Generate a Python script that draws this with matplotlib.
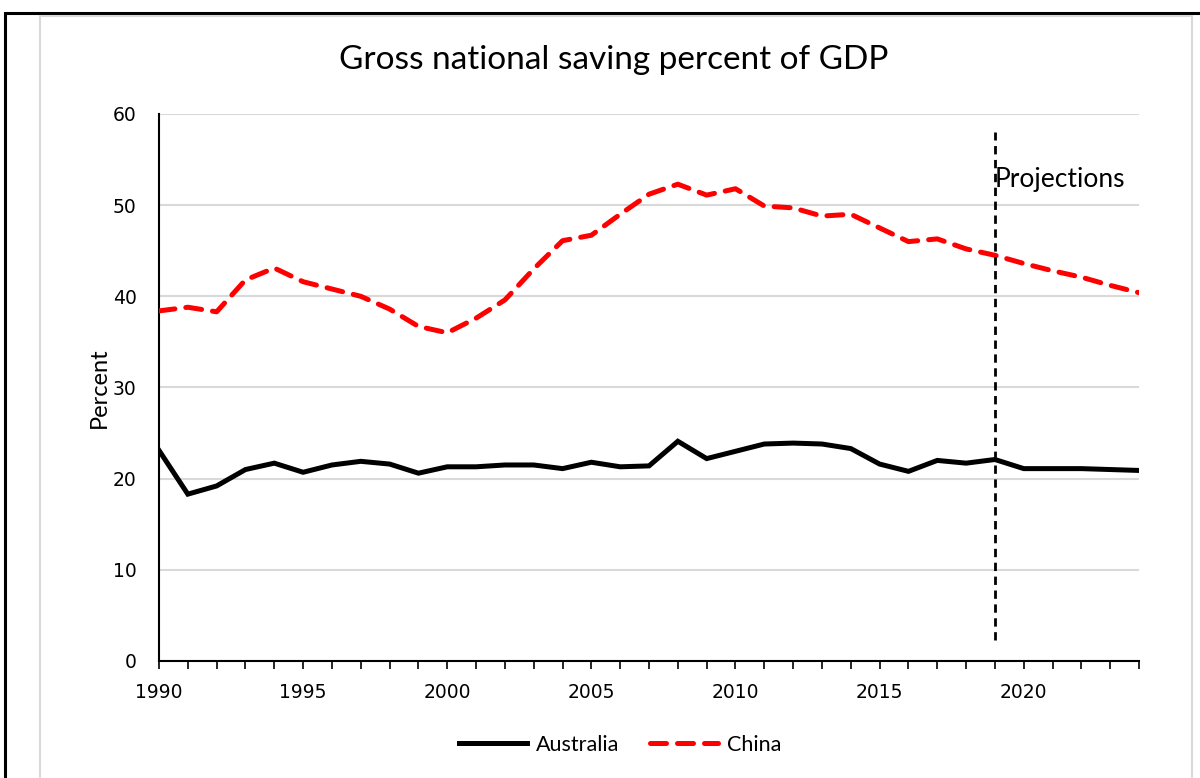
import numpy as np
import matplotlib
matplotlib.use("Agg")
import matplotlib.pyplot as plt
from matplotlib.patches import Rectangle

years = list(range(1990, 2025))
australia = [23.1, 18.3, 19.2, 21.0, 21.7, 20.7, 21.5, 21.9, 21.6, 20.6,
             21.3, 21.3, 21.5, 21.5, 21.1, 21.8, 21.3, 21.4, 24.1, 22.2,
             23.0, 23.8, 23.9, 23.8, 23.3, 21.6, 20.8, 22.0, 21.7, 22.1,
             21.1, 21.1, 21.1, 21.0, 20.9]
china = [38.4, 38.8, 38.3, 41.8, 43.1, 41.6, 40.8, 40.0, 38.6, 36.7,
         36.0, 37.6, 39.6, 43.0, 46.1, 46.7, 49.0, 51.2, 52.3, 51.1,
         51.8, 49.9, 49.7, 48.8, 49.0, 47.5, 46.0, 46.3, 45.2, 44.5,
         43.6, 42.8, 42.1, 41.2, 40.4]
proj_year = 2019
proj_label = "Projections"

plt.rcParams['font.family'] = ['Lato', 'DejaVu Sans']

fig = plt.figure(figsize=(12, 7.78), dpi=100)
ax = fig.add_axes([0.1325, 0.1504, 0.8167, 0.7031])

# outer frame (black) and chart-area border (grey)
fig.patches.append(Rectangle((5 / 1200, -0.1), 1.2, 1 - 13 / 778 + 0.1,
                             transform=fig.transFigure, fill=False,
                             edgecolor="black", linewidth=2.2, zorder=0))
fig.patches.append(Rectangle((40 / 1200, -0.1), (1192 - 40) / 1200, 1 - 16 / 778 + 0.1,
                             transform=fig.transFigure, fill=False,
                             edgecolor="#d9d9d9", linewidth=1.5, zorder=0))

ax.plot(years, australia, color="black", linewidth=3.6, label="Australia",
        solid_joinstyle="miter", zorder=3)
ax.plot(years, china, color="red", linewidth=3.6, label="China",
        dashes=(3.2, 2.2), dash_capstyle="round", zorder=3)
ax.plot([proj_year, proj_year], [2.3, 58], color="black", linewidth=2,
        dashes=(3, 2), zorder=4)
ax.text(proj_year, 52.8, proj_label, fontsize=19, ha="left", va="center")

ax.set_xlim(1990, 2024)
ax.set_ylim(0, 60)
ax.set_yticks(range(0, 61, 10))
ax.set_xticks(range(1990, 2025, 5))
ax.set_xticks(range(1990, 2025), minor=True)
ax.grid(axis="y", color="#d9d9d9", linewidth=1.5, zorder=0)
ax.set_axisbelow(True)

for s in ["top", "right"]:
    ax.spines[s].set_visible(False)
ax.spines["left"].set_linewidth(1.5)
ax.spines["bottom"].set_linewidth(1.5)
ax.tick_params(axis="y", length=0, pad=16, labelsize=13.5)
ax.tick_params(axis="x", which="both", direction="out", length=6, width=1.2,
               labelsize=13.5, pad=10)
for lab in ax.get_xticklabels() + ax.get_yticklabels():
    lab.set_fontfamily("DejaVu Sans")

ax.set_ylabel("Percent", fontsize=17, labelpad=2)
fig.text(614 / 1200, 1 - 60 / 778, "Gross national saving percent of GDP",
         fontsize=24, ha="center", va="center")

h, l = ax.get_legend_handles_labels()
fig.legend(h, l, loc="center", bbox_to_anchor=(620 / 1200, 1 - 745 / 778), ncol=2,
           frameon=False, fontsize=15.5, handlelength=3.2, handletextpad=0.4,
           columnspacing=1.4)

fig.savefig("out.png", dpi=100)
